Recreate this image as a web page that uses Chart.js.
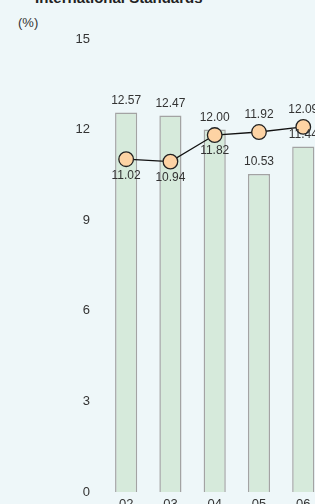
<!DOCTYPE html>
<html lang="en">
<head>
    <meta charset="UTF-8">
    <title>International Standards</title>
    <style>
        body{
            margin: 0;
            background: #eef7f9;
        }
        .wrap{
            position: relative;
            width: 315px;
            height: 504px;
            overflow: hidden;
            background: #eef7f9;
            font-family: "Liberation Sans", Arial, sans-serif;
            color: #333;
        }
        .title{
            position: absolute;
            left: 35px;
            top: -10px;
            font-size: 15px;
            line-height: 15px;
            font-weight: bold;
            color: #222;
            white-space: nowrap;
        }
        .unit{
            position: absolute;
            left: 18px;
            top: 15px;
            font-size: 13px;
            line-height: 15px;
            font-weight: normal;
        }
        canvas{
            position: absolute;
            left: 0;
            top: 0;
        }
    </style>
</head>
<body>
    <div class="wrap">
        <div class="title">International Standards</div>
        <div class="unit">(%)</div>
        <canvas id="mychart" width="334" height="520"></canvas>
    </div>

    <script src="https://cdn.jsdelivr.net/npm/chart.js@4/dist/chart.umd.min.js"></script>
    <script>
        // 연도 (x축)
        const years = ['02', '03', '04', '05', '06'];
        // 막대 값
        const barValues = [12.57, 12.47, 12.00, 10.53, 11.44];
        // 선 값
        const lineValues = [11.02, 10.94, 11.82, 11.92, 12.09];

        const fontFamily = '"Liberation Sans", Arial, sans-serif';

        // 값 라벨 그리기
        const valueLabels = {
            id: 'valueLabels',
            afterDatasetsDraw(chart, args, opts) {
                const ctx = chart.ctx;
                ctx.save();
                ctx.font = '12px ' + fontFamily;
                ctx.fillStyle = '#333';
                ctx.textAlign = 'center';
                ctx.textBaseline = 'middle';
                chart.data.datasets.forEach((ds, di) => {
                    const meta = chart.getDatasetMeta(di);
                    meta.data.forEach((el, i) => {
                        const txt = ds.data[i].toFixed(2);
                        let y;
                        if (ds.type === 'bar') {
                            y = el.y - 12;
                        } else {
                            y = opts.linePos[i] === 'above' ? el.y - 17 : el.y + 16;
                        }
                        ctx.fillText(txt, el.x, y);
                    });
                });
                ctx.restore();
            }
        };

        new Chart(document.getElementById('mychart'), {
            data: {
                labels: years,
                datasets: [
                    {
                        type: 'line',
                        data: lineValues,
                        order: 0,
                        borderColor: '#111',
                        borderWidth: 1.3,
                        pointRadius: 7.3,
                        pointBackgroundColor: '#fdd3a4',
                        pointBorderColor: '#222',
                        pointBorderWidth: 1.3,
                        tension: 0
                    },
                    {
                        type: 'bar',
                        data: barValues,
                        order: 1,
                        backgroundColor: '#d6eadb',
                        borderColor: '#a3a3a3',
                        borderWidth: 1.5,
                        barPercentage: 0.5,
                        categoryPercentage: 1
                    }
                ]
            },
            options: {
                responsive: false,
                animation: false,
                devicePixelRatio: 1,
                layout: {
                    padding: { top: 39, right: 5, bottom: 0, left: 0 }
                },
                plugins: {
                    legend: { display: false },
                    tooltip: { enabled: false },
                    valueLabels: {
                        linePos: ['below', 'below', 'below', 'above', 'above']
                    }
                },
                scales: {
                    x: {
                        grid: { display: false, drawTicks: false },
                        border: { display: false },
                        ticks: {
                            color: '#333',
                            padding: 5,
                            font: { family: fontFamily, size: 13 }
                        },
                        afterFit(scale) { scale.height = 28; }
                    },
                    y: {
                        min: 0,
                        max: 15,
                        grid: { display: false, drawTicks: false },
                        border: { display: false },
                        ticks: {
                            stepSize: 3,
                            color: '#333',
                            padding: 14,
                            font: { family: fontFamily, size: 13 }
                        },
                        afterFit(scale) { scale.width = 104; }
                    }
                }
            },
            plugins: [valueLabels]
        });
    </script>
</body>
</html>
